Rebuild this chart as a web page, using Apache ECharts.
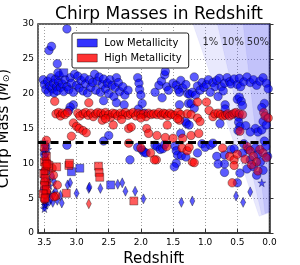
<!DOCTYPE html>
<html><head><meta charset="utf-8">
<script src="https://cdn.jsdelivr.net/npm/echarts@6/dist/echarts.min.js"></script>
<style>html,body{margin:0;padding:0;background:#fff}#c{width:300px;height:265px}</style>
</head><body><div id="c"></div>
<script>
// ---- data (redshift z, chirp mass) ----
const xTicks = [0, 0.5, 1.0, 1.5, 2.0, 2.5, 3.0, 3.5];
const yTicks = [0, 5, 10, 15, 20, 25, 30];
const threshold = 13;
const legendNames = ['Low Metallicity', 'High Metallicity'];

const lowCircles = [
 [3.52,22.0],[3.5,21.3],[3.48,20.6],[3.45,21.8],[3.44,20.2],[3.42,21.1],[3.4,22.3],[3.38,20.7],[3.36,21.5],[3.35,20.1],[3.33,22.1],[3.31,21.0],[3.3,20.4],[3.28,21.7],[3.27,22.6],[3.25,20.9],
 [3.43,26.2],[3.39,26.8],[3.15,29.3],[3.3,24.3],[3.29,23.0],
 [3.22,21.4],[3.2,20.3],[3.18,22.0],[3.15,21.0],[3.12,20.6],[3.1,22.3],[3.08,21.5],[3.05,20.2],[3.03,22.8],[3.0,21.2],[2.98,22.5],[2.96,20.8],[2.93,21.9],[2.9,20.4],
 [2.88,22.3],[2.86,21.4],[2.83,20.1],[2.8,22.0],[2.78,20.9],[2.75,21.6],[2.72,22.8],[2.7,20.5],[2.68,21.8],[2.65,22.4],[2.63,20.2],[2.6,21.3],[2.58,22.1],[2.55,20.7],[2.52,21.5],[2.5,20.0],[2.48,22.0],[2.45,21.2],[2.42,19.6],[2.4,20.9],[2.38,22.3],[2.35,21.6],[2.33,20.3],
 [2.28,21.0],[2.25,19.8],[2.2,20.5],[2.05,22.3],[2.03,21.5],[2.02,20.6],[2.0,19.8],[1.98,18.6],[2.04,17.8],
 [2.58,19.0],[2.38,18.7],[2.26,18.4],[1.94,17.2],[3.05,18.4],[3.1,18.1],[3.12,17.6],
 [1.78,20.2],[1.72,21.2],[1.68,21.8],[1.63,22.7],[1.62,23.2],[1.6,21.0],[1.57,20.5],[1.5,21.5],[1.45,21.2],[1.42,20.6],[1.38,21.9],[1.35,20.8],[1.67,19.4],[1.4,18.4],[1.4,20.2],
 [1.3,21.3],[1.27,20.0],[1.24,19.9],[1.2,20.2],[1.17,22.4],[1.15,19.8],[1.12,21.1],[1.08,20.5],[1.05,21.6],[1.02,20.9],[0.98,21.3],[0.95,22.0],[1.26,18.6],[1.22,18.6],[1.17,17.9],[1.29,15.7],[1.31,16.0],
 [0.88,21.6],[0.85,21.0],[0.82,21.9],[0.78,22.2],[0.75,21.0],[0.72,20.4],[0.7,21.5],[0.66,22.3],[0.62,21.7],[0.6,21.4],[0.55,22.1],[0.5,21.3],[0.47,22.2],[0.45,21.0],[0.4,21.7],[0.35,22.4],[0.3,21.6],[0.25,22.0],[0.2,21.2],[0.15,21.8],[0.1,22.3],[0.05,21.5],[0.02,20.7],[0.92,20.2],[0.8,19.6],[0.69,18.4],[0.69,17.8],[0.5,19.2],[0.47,19.5],[0.44,18.9],[0.42,18.3],[0.08,18.6],[0.12,18.0],
 [0.48,16.6],[0.48,15.9],[0.46,15.3],[0.49,14.7],[0.77,15.7],[0.37,15.4],[0.22,15.0],[0.18,14.5],[0.12,14.8],[0.3,14.5],[0.1,16.0],[0.05,15.5],
 [2.5,14.0],[1.38,14.3],[1.25,15.5],[3.15,12.6],
 [2.58,13.2],[2.05,12.3],[1.98,11.9],[1.95,11.6],[1.92,11.5],[1.78,12.6],[2.17,10.5],
 [1.75,12.4],[1.7,12.0],[1.66,12.1],[1.63,12.7],[1.47,12.5],[1.45,11.8],[1.43,11.2],[1.37,11.1],[1.3,10.9],[1.45,10.0],[1.48,9.5],[1.12,11.5],[1.05,12.8],[1.0,12.3],[0.92,12.6],[0.88,12.9],
 [0.82,11.0],[0.7,11.2],[0.7,9.9],[0.8,9.9],[0.7,8.7],[0.6,12.0],[0.55,12.1],[0.5,7.2],[0.46,8.6],
 [0.4,12.8],[0.33,12.0],[0.3,10.5],[0.25,9.5],[0.22,12.2],[0.18,11.3],[0.14,10.2],[0.1,9.0],[0.06,12.4],[0.03,11.0],[0.08,13.2],[0.35,9.2],[0.42,11.5],[0.2,8.3],
 [3.48,12.5],[3.5,11.3],[3.46,10.0],[3.5,6.3],[3.48,5.5],[3.46,4.4]
];
const highCircles = [
 [3.32,17.1],[3.28,17.3],[3.25,16.8],[3.22,17.2],[3.18,17.0],[3.14,17.3],
 [2.98,17.2],[2.95,16.8],[2.9,17.1],[2.86,17.3],[2.82,16.9],[2.78,17.2],[2.74,16.7],[2.7,17.1],[2.67,17.3],
 [2.62,17.2],[2.58,16.9],[2.55,17.3],[2.5,17.0],[2.47,16.6],[2.44,17.2],[2.4,17.1],[2.36,16.8],[2.32,17.2],[2.28,17.0],[2.24,17.3],[2.2,16.9],[2.16,17.1],[2.12,17.3],[2.08,16.8],[2.04,17.2],[2.0,17.0],[1.96,17.1],[1.92,16.7],[1.88,17.2],[1.84,17.0],[1.8,17.1],
 [1.75,17.0],[1.72,17.3],[1.68,16.9],[1.65,17.2],[1.62,17.1],[1.58,16.8],[1.55,17.2],[1.52,17.0],[1.47,16.9],[1.42,17.3],[1.38,17.0],
 [1.28,17.1],[1.22,17.0],[1.12,18.8],[0.98,18.8],[0.94,17.6],[0.88,16.7],[0.85,17.1],[0.8,17.2],[0.76,17.0],[0.72,16.8],[0.68,16.9],[0.65,17.1],[0.62,16.8],[0.58,17.0],[0.55,17.2],[0.52,17.3],[0.47,17.1],[0.42,17.0],[0.09,17.3],[0.07,16.8],[0.02,16.5],
 [3.34,18.9],[2.81,18.7],[3.47,13.3],[3.08,13.9],
 [3.05,15.8],[3.0,15.3],[2.96,15.0],[2.9,14.7],[2.85,14.4],
 [2.43,15.5],[2.19,15.0],[2.15,15.2],[1.91,15.0],[1.88,14.3],[2.6,16.2],[2.55,16.4],[2.3,16.3],[2.0,16.5],
 [1.59,15.5],[1.4,16.2],[1.43,16.4],[1.12,16.5],[1.08,16.0],[1.75,14.0],[1.62,13.7],[1.5,13.6],[1.35,13.6],[1.22,14.0],[1.1,14.3],[0.46,14.6],
 [2.19,12.9],[1.76,10.5],[1.79,10.5],[1.36,12.2],[1.28,11.8],[1.25,12.3],[1.2,10.2],[1.17,10.1],
 [0.73,12.2],[0.62,11.0],[0.55,10.5],[0.55,9.7],[0.5,11.3],[0.35,12.4],[0.3,11.8],[0.25,11.0],[0.2,10.2],[0.15,12.0],[0.1,11.5],[0.05,10.8],[0.28,9.8],[0.18,8.9],[0.38,10.6],
 [0.58,7.2],[2.0,12.2],[1.85,11.5],[1.6,12.4],
 [3.49,8.9],[3.5,7.3],[3.47,5.9],[3.5,4.8],[3.38,9.3],[3.36,8.3],[3.3,6.9],[3.32,5.3],[3.35,5.2]
];
const lowDiamonds = [
 [3.14,6.9],[3.1,7.2],[3.0,5.7],[2.81,6.4],[2.8,6.6],[2.63,6.4],[2.36,7.0],[2.29,7.2],[2.24,6.0],[2.09,6.0],[1.96,4.9],[1.37,4.4],[1.2,4.6],[0.52,5.3],[0.41,4.4],[0.3,5.9],
 [3.25,5.4],[3.3,4.7],[3.37,4.4],[3.23,4.3],
 [3.5,12.0],[3.47,10.8],[3.49,9.3],[3.52,8.0],[3.46,6.0],[3.5,5.3],[3.48,4.3],[3.5,3.8],[3.43,7.5],[3.38,8.2],[3.35,7.4],[3.33,6.0],[3.4,4.9],[3.36,5.5]
];
const highDiamonds = [[2.81,4.2],[3.45,10.3],[3.43,7.2]];
const lowSquares = [[3.2,23.0],[3.08,8.8],[2.95,9.3],[2.47,6.9]];
const highSquares = [
 [3.43,9.7],[3.31,9.5],[3.12,9.7],[3.11,10.0],[2.66,9.6],[2.65,8.7],[2.64,8.0],[3.16,5.7],[2.11,4.6],
 [3.5,10.2],[3.48,9.5],[3.51,8.5],[3.49,7.8],[3.5,6.8],[3.47,6.2],[3.52,5.6],[3.49,5.0],[3.5,12.3],[3.47,11.0],[3.46,9.9]
];
const lowStars = [
 [3.5,13.1],[3.49,12.5],[3.51,11.8],[3.48,11.2],[3.5,10.5],[3.47,9.8],[3.52,9.0],[3.49,8.3],[3.46,7.6],[3.5,7.0],[3.48,6.4],[3.51,5.8],[3.47,5.2],[3.5,4.6],[3.49,4.0],[3.5,3.5],[3.44,8.9],[3.42,6.8],[3.4,5.5],[3.45,12.0],
 [0.12,7.2]
];

// detection-probability wedges: [top z at M=30, bottom z, bottom M, M at z=0]
const wedgeLabels = ['1%', '10%', '50%'];
const wedgeTopZ = [1.19, 0.81, 0.41];
const wedgeBottomZ = [0.16, 0.12, 0.07];
const wedgeBottomM = [2.4, 2.6, 2.8];
const wedgeRightM = [2.9, 3.0, 3.1];
const wedgeLabelPos = [[0.92, 27.4], [0.57, 27.4], [0.18, 27.4]];

// ---- chart ----
const FONT = 'DejaVu Sans';
const BLUE = 'rgba(0,0,255,0.8)', RED = 'rgba(255,0,0,0.8)';
const starPath = 'path://M50,0 L61,35 L98,35 L68,57 L79,91 L50,70 L21,91 L32,57 L2,35 L39,35 Z';

function sc(name, data, symbol, size, color, z) {
  return { type: 'scatter', name: name, data: data, symbol: symbol, symbolSize: size, z: z || 2,
    itemStyle: { color: color, borderColor: 'rgba(0,0,0,0.85)', borderWidth: 0.5 }, emphasis: { disabled: true } };
}

const wedgeData = wedgeTopZ.map((t, i) => [t, wedgeBottomZ[i], wedgeBottomM[i], wedgeRightM[i]]);

const chart = echarts.init(document.getElementById('c'), null, { renderer: 'canvas' });
chart.setOption({
  animation: false,
  textStyle: { fontFamily: FONT },
  title: { text: 'Chirp Masses in Redshift', left: 154, textAlign: 'center', top: 1,
    textStyle: { fontFamily: FONT, fontSize: 17, fontWeight: 'normal', color: '#000' } },
  grid: { left: 38, right: 30.5, top: 24, bottom: 32, show: true, borderColor: '#333', borderWidth: 1.5,
    backgroundColor: 'transparent', containLabel: false, outerBoundsMode: 'none' },
  legend: {
    data: [
      { name: legendNames[0], icon: 'rect', itemStyle: { color: '#0000ff', borderColor: '#000', borderWidth: 0.5 } },
      { name: legendNames[1], icon: 'rect', itemStyle: { color: '#ff0000', borderColor: '#000', borderWidth: 0.5 } }
    ],
    orient: 'vertical', left: 72, top: 33, itemWidth: 20, itemHeight: 8, itemGap: 5,
    padding: [5, 7, 5, 5], backgroundColor: '#fff', borderColor: '#222', borderWidth: 1, borderRadius: 2,
    textStyle: { fontFamily: FONT, fontSize: 10, color: '#000', padding: [0, 0, 0, 2] },
    selectedMode: false
  },
  xAxis: {
    type: 'value', min: 0, max: 3.6, interval: 0.5, inverse: true,
    name: 'Redshift', nameLocation: 'middle', nameGap: 12,
    nameTextStyle: { fontFamily: FONT, fontSize: 15, color: '#000' },
    axisLine: { show: true, lineStyle: { color: '#333', width: 1.5 } },
    axisTick: { show: true, inside: true, length: 4, lineStyle: { color: '#333' } },
    axisLabel: { fontFamily: FONT, fontSize: 9, color: '#000', margin: 5, formatter: v => xTicks.includes(v) ? v.toFixed(1) : '' },
    splitLine: { show: true, lineStyle: { color: '#888', type: [1, 2], width: 0.8 } }
  },
  yAxis: {
    type: 'value', min: 0, max: 30, interval: 5,
    name: '{a|Chirp Mass (}{b|M}{c|⊙}{a|)}', nameLocation: 'middle', nameGap: 16, nameRotate: 90,
    nameTextStyle: { fontFamily: FONT, fontSize: 15, color: '#000',
      rich: { a: { fontFamily: FONT, fontSize: 15, color: '#000' },
              b: { fontFamily: FONT, fontSize: 15, fontStyle: 'italic', color: '#000' },
              c: { fontFamily: FONT, fontSize: 9, color: '#000', padding: [6, 0, 0, 0] } } },
    axisLine: { show: true, lineStyle: { color: '#333', width: 1.5 } },
    axisTick: { show: true, inside: true, length: 4, lineStyle: { color: '#333' } },
    axisLabel: { fontFamily: FONT, fontSize: 9, color: '#000', margin: 4, formatter: v => yTicks.includes(v) ? String(v) : '' },
    splitLine: { show: true, lineStyle: { color: '#888', type: [1, 2], width: 0.8 } }
  },
  series: [
    sc(legendNames[0], lowCircles, 'circle', 8.5, BLUE),
    sc(legendNames[0], lowDiamonds, 'diamond', [5, 10], BLUE),
    sc(legendNames[0], lowSquares, 'rect', 8, BLUE),
    sc(legendNames[0], lowStars, starPath, 8, BLUE),
    sc(legendNames[1], highCircles, 'circle', 8.5, RED, 3),
    sc(legendNames[1], highDiamonds, 'diamond', [5, 10], RED, 3),
    sc(legendNames[1], highSquares, 'rect', 8, RED, 3),
    {
      type: 'custom', name: 'wedges', z: 4, silent: true, clip: true,
      data: wedgeData,
      renderItem: function (params, api) {
        const top = api.value(0), bz = api.value(1), bm = api.value(2), rm = api.value(3);
        const pts = [api.coord([top, 30]), api.coord([bz, bm]), api.coord([0, rm]), api.coord([0, 30])];
        return { type: 'polygon', shape: { points: pts }, style: { fill: 'rgba(10,10,235,0.09)', stroke: 'rgba(10,10,235,0.08)', lineWidth: 0.6 } };
      }
    },
    {
      type: 'scatter', name: 'wedgeLabels', z: 5, silent: true, symbolSize: 0,
      data: wedgeLabelPos.map((p, i) => ({ value: p, name: wedgeLabels[i] })),
      label: { show: true, position: 'inside', formatter: p => p.name, fontFamily: FONT, fontSize: 10, color: '#000' }
    },
    {
      type: 'line', name: 'threshold', z: 6, silent: true, symbol: 'none',
      data: [[3.6, threshold], [0, threshold]],
      lineStyle: { color: '#000', width: 3, type: [8, 4.5] }
    }
  ]
});
</script>
</body></html>
